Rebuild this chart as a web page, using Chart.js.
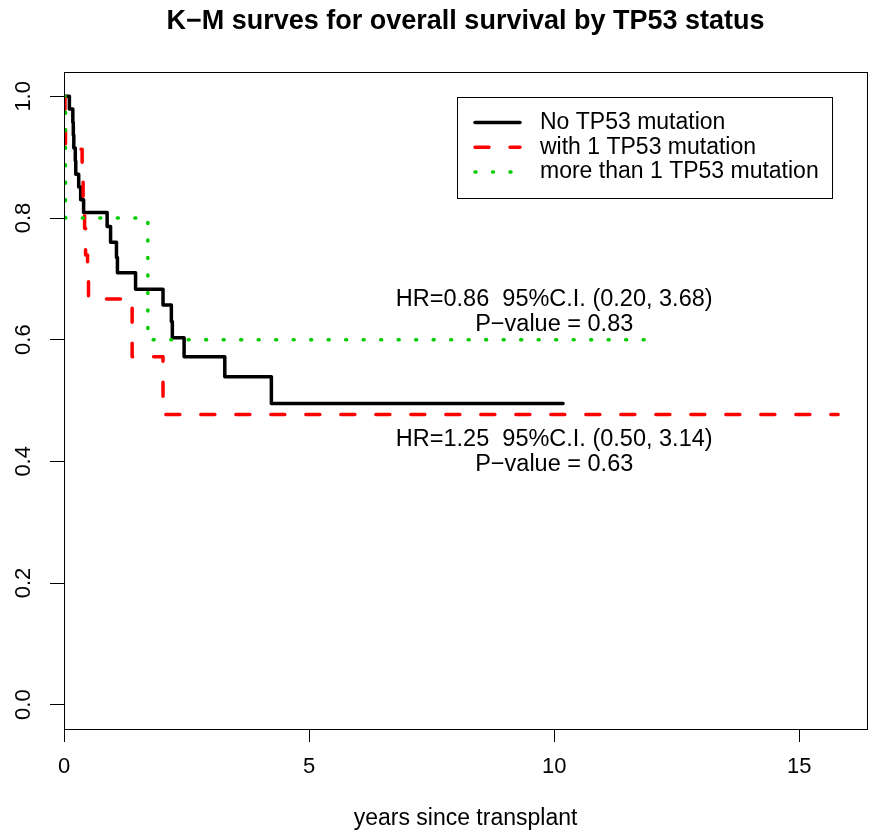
<!DOCTYPE html>
<html>
<head>
<meta charset="utf-8">
<title>K-M survival by TP53 status</title>
<script src="https://cdn.jsdelivr.net/npm/chart.js@4.4.1/dist/chart.umd.min.js"></script>
<style>
  html, body { margin: 0; padding: 0; background: #fff; }
  canvas { display: block; }
</style>
</head>
<body>
<canvas id="km" width="870" height="835"></canvas>
<script>
// Curves: years since transplant / survival fraction
let groupLabels = ['No TP53 mutation', 'with 1 TP53 mutation', 'more than 1 TP53 mutation'];

let noMutTimes = [0, 0.11, 0.18, 0.19, 0.20, 0.23, 0.24, 0.30, 0.34, 0.40, 0.88, 0.95, 1.07, 1.09, 1.46, 2.02, 2.19, 2.21, 2.45, 3.28, 4.23, 10.18];
let noMutSurv = [1, 0.979, 0.957, 0.936, 0.915, 0.894, 0.872, 0.851, 0.830, 0.809, 0.786, 0.760, 0.735, 0.710, 0.683, 0.657, 0.630, 0.603, 0.572, 0.539, 0.495, 0.495];

let oneMutTimes = [0, 0.02, 0.03, 0.37, 0.39, 0.42, 0.44, 0.48, 0.50, 1.39, 2.02, 15.79];
let oneMutSurv = [1, 0.957, 0.913, 0.870, 0.826, 0.783, 0.739, 0.703, 0.667, 0.572, 0.477, 0.477];

let multiMutTimes = [0, 0.03, 1.71, 11.88];
let multiMutSurv = [1, 0.8, 0.6, 0.6];

let xTicks = [0, 5, 10, 15];
let yTicks = [0, 0.2, 0.4, 0.6, 0.8, 1.0];
let yTickLabels = ['0.0', '0.2', '0.4', '0.6', '0.8', '1.0'];

// Hazard ratio notes (centre of each two-line block, in data units)
let noteX = [10, 10];
let noteY = [0.646, 0.416];
let noteText = [
  ['HR=0.86  95%C.I. (0.20, 3.68)', 'P\u2212value = 0.83'],
  ['HR=1.25  95%C.I. (0.50, 3.14)', 'P\u2212value = 0.63'],
];

const FONT = '"Liberation Sans", Arial, Helvetica, sans-serif';

function toPoints(times, surv) {
  return times.map((t, i) => ({ x: t, y: surv[i] }));
}

// Box round the plot, rotated y labels, legend and HR notes (R style)
let rDecor = {
  id: 'rDecor',
  afterDraw(chart) {
    let ctx = chart.ctx;
    let a = chart.chartArea;
    let xs = chart.scales.x;
    let ys = chart.scales.y;
    ctx.save();

    // plot box
    ctx.strokeStyle = '#000';
    ctx.lineWidth = 1;
    ctx.strokeRect(Math.round(a.left) + 0.5, Math.round(a.top) + 0.5,
      Math.round(a.right - a.left), Math.round(a.bottom - a.top));

    // y tick labels, rotated like R's las=0
    ctx.fillStyle = '#000';
    ctx.font = '22px ' + FONT;
    ctx.textAlign = 'center';
    ctx.textBaseline = 'middle';
    yTicks.forEach((v, i) => {
      ctx.save();
      ctx.translate(23.5, ys.getPixelForValue(v));
      ctx.rotate(-Math.PI / 2);
      ctx.fillText(yTickLabels[i], 0, 0);
      ctx.restore();
    });

    // HR notes
    ctx.font = '23.5px ' + FONT;
    noteText.forEach((lines, i) => {
      let cx = xs.getPixelForValue(noteX[i]);
      let cy = ys.getPixelForValue(noteY[i]);
      lines.forEach((txt, j) => {
        ctx.fillText(txt, cx, cy + (j - (lines.length - 1) / 2) * 25);
      });
    });

    // legend, top right
    ctx.font = '23px ' + FONT;
    let bx = a.right - 410, by = a.top + 25, bw = 375, bh = 101;
    ctx.lineWidth = 1;
    ctx.strokeRect(Math.round(bx) + 0.5, Math.round(by) + 0.5, bw, bh);
    ctx.textAlign = 'left';
    chart.data.datasets.forEach((ds, i) => {
      let ly = by + 25.5 + i * 24.7;
      ctx.save();
      ctx.strokeStyle = ds.borderColor;
      ctx.lineWidth = ds.borderWidth;
      ctx.lineCap = 'round';
      ctx.setLineDash(ds.borderDash || []);
      ctx.beginPath();
      ctx.moveTo(bx + 18, ly);
      ctx.lineTo(bx + 63, ly);
      ctx.stroke();
      ctx.restore();
      ctx.fillText(ds.label, bx + 83, ly);
    });

    ctx.restore();
  }
};

let chart = new Chart(document.getElementById('km'), {
  type: 'line',
  data: {
    datasets: [
      {
        label: groupLabels[0],
        data: toPoints(noMutTimes, noMutSurv),
        borderColor: '#000000',
        borderWidth: 3.5,
        order: 3,
      },
      {
        label: groupLabels[1],
        data: toPoints(oneMutTimes, oneMutSurv),
        borderColor: '#ff0000',
        borderWidth: 3.5,
        borderDash: [14, 21],
        order: 2,
      },
      {
        label: groupLabels[2],
        data: toPoints(multiMutTimes, multiMutSurv),
        borderColor: '#00cd00',
        borderWidth: 3.5,
        borderDash: [1, 16.5],
        order: 1,
      },
    ],
  },
  options: {
    responsive: false,
    animation: false,
    devicePixelRatio: 1,
    layout: { padding: { top: 0, right: 3, bottom: 0, left: 0 } },
    datasets: {
      line: {
        stepped: true,
        pointRadius: 0,
        fill: false,
        borderCapStyle: 'round',
        borderJoinStyle: 'round',
      },
    },
    scales: {
      x: {
        type: 'linear',
        min: 0,
        max: 16.38,
        afterBuildTicks: s => { s.ticks = xTicks.map(v => ({ value: v })); },
        afterFit: s => { s.height = 106; },
        border: { display: false },
        grid: { drawOnChartArea: false, drawTicks: true, tickLength: 13, color: '#000', lineWidth: 1 },
        ticks: { color: '#000', padding: 12, maxRotation: 0, font: { family: FONT, size: 22 } },
        title: {
          display: true,
          text: 'years since transplant',
          color: '#000',
          font: { family: FONT, size: 23 },
          padding: { top: 0, bottom: 3 },
        },
      },
      y: {
        type: 'linear',
        min: -0.04,
        max: 1.04,
        afterBuildTicks: s => { s.ticks = yTicks.map(v => ({ value: v })); },
        afterFit: s => { s.width = 64; },
        border: { display: false },
        grid: { drawOnChartArea: false, drawTicks: true, tickLength: 14, color: '#000', lineWidth: 1 },
        ticks: { display: false },
      },
    },
    plugins: {
      legend: { display: false },
      tooltip: { enabled: false },
      title: {
        display: true,
        text: 'K\u2212M surves for overall survival by TP53 status',
        fullSize: false,
        color: '#000',
        font: { family: FONT, size: 27, weight: 'bold' },
        padding: { top: 5.1, bottom: 34.5 },
      },
    },
  },
  plugins: [rDecor],
});
</script>
</body>
</html>
